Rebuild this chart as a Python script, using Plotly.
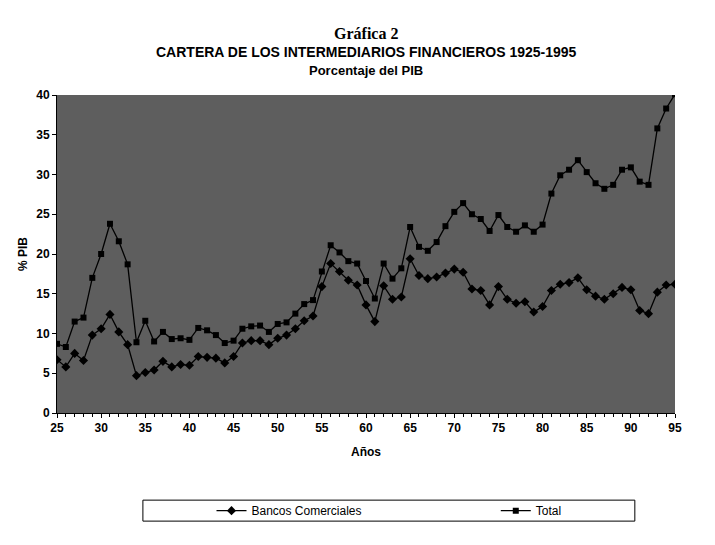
import plotly.graph_objects as go

# Years (two-digit, 1925-1995)
anos = list(range(25, 96))

# Cartera como % del PIB
bancos = [6.7, 5.8, 7.5, 6.6, 9.8, 10.6, 12.4, 10.2, 8.6, 4.7,
          5.1, 5.4, 6.5, 5.8, 6.1, 6.0, 7.1, 7.0, 6.9, 6.3,
          7.1, 8.8, 9.1, 9.1, 8.6, 9.4, 9.8, 10.6, 11.6, 12.2,
          15.9, 18.8, 17.8, 16.7, 16.1, 13.6, 11.5, 16.0, 14.3, 14.6,
          19.4, 17.3, 16.9, 17.1, 17.6, 18.1, 17.7, 15.6, 15.4, 13.6,
          15.9, 14.3, 13.8, 14.0, 12.7, 13.4, 15.4, 16.2, 16.4, 17.0,
          15.5, 14.7, 14.3, 15.0, 15.8, 15.5, 12.9, 12.5, 15.2, 16.1,
          16.2]
total = [8.7, 8.3, 11.5, 12.0, 17.0, 20.0, 23.8, 21.6, 18.7, 8.9,
         11.6, 9.0, 10.2, 9.3, 9.4, 9.2, 10.7, 10.4, 9.8, 8.8,
         9.1, 10.6, 10.9, 11.0, 10.2, 11.2, 11.4, 12.5, 13.7, 14.2,
         17.8, 21.1, 20.2, 19.1, 18.8, 16.6, 14.4, 18.8, 16.9, 18.2,
         23.4, 20.9, 20.4, 21.5, 23.5, 25.3, 26.4, 25.0, 24.4, 22.9,
         24.9, 23.4, 22.8, 23.6, 22.8, 23.7, 27.6, 29.9, 30.6, 31.8,
         30.3, 28.9, 28.2, 28.7, 30.6, 30.9, 29.1, 28.7, 35.8, 38.3,
         40.1]

fig = go.Figure()
fig.add_trace(go.Scatter(x=anos, y=bancos, name='Bancos Comerciales',
                         mode='lines+markers', legend='legend',
                         line=dict(color='black', width=1.3),
                         marker=dict(symbol='diamond', size=7, color='black')))
fig.add_trace(go.Scatter(x=anos, y=total, name='Total',
                         mode='lines+markers', legend='legend2',
                         line=dict(color='black', width=1.3),
                         marker=dict(symbol='square', size=6, color='black')))

axis_font = dict(family='Liberation Sans', size=12, color='black', weight='bold')

fig.update_xaxes(range=[25, 95], tickmode='linear', tick0=25, dtick=5,
                 ticks='outside', ticklen=4, tickcolor='black',
                 minor=dict(dtick=1, ticks='outside', ticklen=3, tickcolor='black'),
                 showline=True, linecolor='black', linewidth=1,
                 showgrid=False, zeroline=False, tickfont=axis_font,
                 title=dict(text='Años', font=axis_font, standoff=13))
fig.update_yaxes(range=[0, 40], tickmode='linear', tick0=0, dtick=5,
                 ticks='outside', ticklen=4, tickcolor='black',
                 showline=True, linecolor='black', linewidth=1,
                 showgrid=False, zeroline=False, tickfont=axis_font,
                 title=dict(text='% PIB', font=axis_font, standoff=6))

# Three-line heading
fig.add_annotation(text='<b>Gráfica 2</b>', xref='paper', yref='paper',
                   x=0.5, y=1.227, showarrow=False,
                   font=dict(family='Liberation Serif', size=16, color='black'))
fig.add_annotation(text='<b>CARTERA DE LOS INTERMEDIARIOS FINANCIEROS 1925-1995</b>',
                   xref='paper', yref='paper', x=0.5, y=1.167, showarrow=False,
                   font=dict(family='Liberation Sans', size=14, color='black'))
fig.add_annotation(text='<b>Porcentaje del PIB</b>', xref='paper', yref='paper',
                   x=0.5, y=1.107, showarrow=False,
                   font=dict(family='Liberation Sans', size=13, color='black'))

# Legend frame
fig.add_shape(type='rect', xref='paper', yref='paper',
              x0=0.139, x1=0.935, y0=-0.340, y1=-0.274,
              line=dict(color='black', width=1))

legend_font = dict(family='Liberation Sans', size=12, color='black')
fig.update_layout(
    width=715, height=545,
    margin=dict(l=49, r=48, t=87, b=140, autoexpand=False),
    paper_bgcolor='white', plot_bgcolor='#5e5e5e',
    showlegend=True,
    legend=dict(orientation='h', x=0.25, xanchor='left', y=-0.307, yanchor='middle',
                font=legend_font, bgcolor='rgba(0,0,0,0)'),
    legend2=dict(orientation='h', x=0.71, xanchor='left', y=-0.307, yanchor='middle',
                 font=legend_font, bgcolor='rgba(0,0,0,0)'),
)

fig.write_html('out.html')
